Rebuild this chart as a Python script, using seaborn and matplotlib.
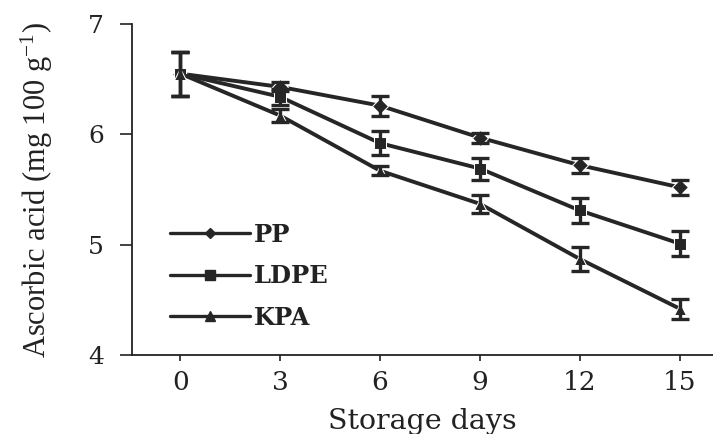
import numpy as np
import pandas as pd
import matplotlib
matplotlib.use("Agg")
import matplotlib.pyplot as plt
import seaborn as sns
from matplotlib.lines import Line2D

days = [0, 3, 6, 9, 12, 15]
pp = [6.55, 6.43, 6.26, 5.97, 5.72, 5.52]
ldpe = [6.55, 6.34, 5.92, 5.69, 5.31, 5.01]
kpa = [6.55, 6.17, 5.67, 5.37, 4.87, 4.42]
pp_err = [0.20, 0.04, 0.09, 0.045, 0.07, 0.07]
ldpe_err = [0.20, 0.07, 0.11, 0.10, 0.11, 0.11]
kpa_err = [0.20, 0.06, 0.04, 0.08, 0.11, 0.09]
series = ["PP", "LDPE", "KPA"]
x_ticks = [0, 3, 6, 9, 12, 15]
y_ticks = [4, 5, 6, 7]

sns.set_style("ticks")
plt.rcParams["mathtext.fontset"] = "custom"
plt.rcParams["mathtext.rm"] = "Liberation Serif"
plt.rcParams["mathtext.it"] = "Liberation Serif:italic"

df = pd.DataFrame({
    "day": days * 3,
    "value": pp + ldpe + kpa,
    "err": pp_err + ldpe_err + kpa_err,
    "pkg": sum([[s] * len(days) for s in series], []),
})

col = "#262626"
markers = {"PP": "D", "LDPE": "s", "KPA": "^"}
msizes = {"PP": 5, "LDPE": 7, "KPA": 7}

fig = plt.figure(figsize=(7.13, 4.34), dpi=100)
ax = fig.add_axes([132 / 713, 1 - 355 / 434, 1 - 132 / 713, 331 / 434])

sns.lineplot(data=df, x="day", y="value", style="pkg", markers=markers,
             dashes=False, color=col, linewidth=2.8, markersize=8,
             legend=False, ax=ax, zorder=3)
for s in series:
    d = df[df["pkg"] == s]
    ax.errorbar(d["day"], d["value"], yerr=d["err"], fmt="none",
                ecolor=col, elinewidth=2.4, capsize=6.5, capthick=2.4, zorder=4)

ax.set_xlim(-1.45, 16.0)
ax.set_ylim(4, 7)
ax.set_xticks(x_ticks)
ax.set_yticks(y_ticks)
ax.set_xticklabels([str(v) for v in x_ticks], family="DejaVu Serif", fontsize=19)
ax.set_yticklabels([str(v) for v in y_ticks], family="DejaVu Serif", fontsize=18)
ax.tick_params(axis="x", length=4, width=1.2, pad=7, colors="#222222")
ax.tick_params(axis="y", length=9, width=1.2, pad=11, colors="#222222")
for sp in ["top", "right"]:
    ax.spines[sp].set_visible(False)
for sp in ["left", "bottom"]:
    ax.spines[sp].set_linewidth(1.3)
    ax.spines[sp].set_color("#222222")

ax.set_xlabel("Storage days", family="DejaVu Serif", fontsize=20.5, labelpad=9, color="#222222")
ax.set_ylabel(r"Ascorbic acid (mg 100 g$^{\mathrm{-1}}$)", family="Liberation Serif",
              fontsize=22, labelpad=24, color="#222222")

handles = [Line2D([0], [0], color=col, lw=2.4, marker=markers[s],
                  markersize=msizes[s]) for s in series]
leg = ax.legend(handles, series, loc="upper left", bbox_to_anchor=(0.065, 0.40),
                frameon=False, borderpad=0, borderaxespad=0, handlelength=3.3,
                handletextpad=0.15, labelspacing=0.72,
                prop={"family": "DejaVu Serif", "weight": "bold", "size": 17.5})
for t in leg.get_texts():
    t.set_color("#222222")

fig.savefig("out.png", dpi=100)
